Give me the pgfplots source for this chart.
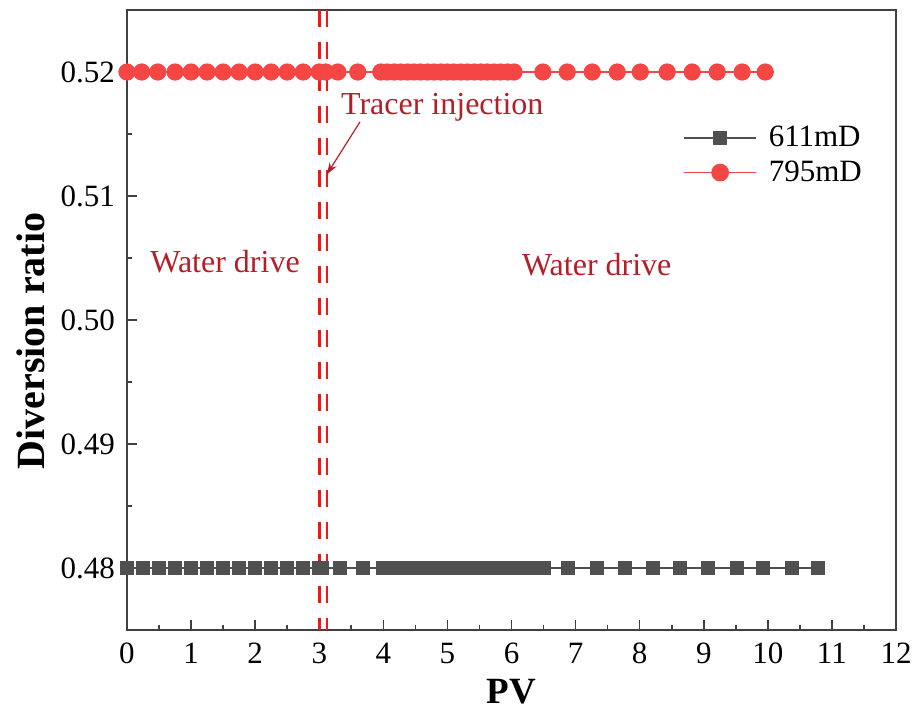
\documentclass[border=0pt]{standalone}
\usepackage{fontspec}
\setmainfont{Liberation Serif}
\usepackage{pgfplots}
\pgfplotsset{compat=1.18}
\usetikzlibrary{arrows.meta}
\definecolor{cred}{RGB}{245,70,70}
\definecolor{cgray}{RGB}{80,80,80}
\definecolor{axisgray}{RGB}{64,64,64}
\definecolor{cdash}{RGB}{240,25,25}
\definecolor{cann}{RGB}{180,30,40}
\begin{document}
\begin{tikzpicture}
\path[use as bounding box] (-63.5pt,-39.5pt) rectangle (394pt,315pt);
\begin{axis}[
  name=ax, scale only axis, width=384.5pt, height=310pt,
  at={(0pt,0pt)}, anchor=south west,
  xmin=0, xmax=12, ymin=0.475, ymax=0.525,
  xtick={0,1,...,12}, minor x tick num=1,
  ytick={0.48,0.49,0.50,0.51,0.52}, minor y tick num=1,
  tick align=inside, xtick pos=bottom, ytick pos=left,
  major tick length=5pt, minor tick length=2.5pt,
  axis line style={draw=axisgray, line width=1pt},
  tick style={draw=axisgray, line width=0.8pt},
  /pgf/number format/assume math mode=true,
  yticklabel style={/pgf/number format/fixed, /pgf/number format/fixed zerofill, /pgf/number format/precision=2, xshift=-2.5pt},
  xticklabel style={yshift=-3pt},
  ticklabel style={font=\fontsize{15.5}{18}\selectfont},
  xlabel={PV}, ylabel={Diversion ratio},
  xlabel style={font=\fontsize{18.5}{21}\selectfont\bfseries, at={(axis description cs:0.5,-0.099)}, anchor=center},
  ylabel style={font=\fontsize{20}{23}\selectfont\bfseries, at={(axis description cs:-0.1248,0.466)}, anchor=center},
  legend style={at={(rel axis cs:0.969,0.826)}, anchor=north east, draw=none, fill=none,
    font=\fontsize{15.5}{18}\selectfont, row sep=1.5pt},
  legend cell align=left,
  legend image code/.code={\draw[mark repeat=2,mark phase=2, line width=0.9pt] plot coordinates {(0pt,0pt) (18pt,0pt) (36pt,0pt)}; \path (40pt,0pt);},
]
\addplot[color=cgray, line width=0.6pt, mark=square*, mark size=3.2pt, mark options={solid, fill=cgray, draw=cgray}] coordinates {
(0,0.48) (0.25,0.48) (0.5,0.48) (0.75,0.48) (1.0,0.48) (1.25,0.48) (1.5,0.48) (1.75,0.48) (2.0,0.48) (2.25,0.48) (2.5,0.48) (2.75,0.48) (3.0,0.48) (3.05,0.48) (3.32,0.48) (3.68,0.48)
(4.0,0.48) (4.1,0.48) (4.2,0.48) (4.3,0.48) (4.4,0.48) (4.5,0.48) (4.6,0.48) (4.7,0.48) (4.8,0.48) (4.9,0.48) (5.0,0.48) (5.1,0.48) (5.2,0.48) (5.3,0.48) (5.4,0.48) (5.5,0.48) (5.6,0.48) (5.7,0.48) (5.8,0.48) (5.9,0.48) (6.0,0.48) (6.1,0.48) (6.2,0.48) (6.3,0.48) (6.4,0.48) (6.5,0.48)
(6.88,0.48) (7.33,0.48) (7.77,0.48) (8.21,0.48) (8.63,0.48) (9.07,0.48) (9.52,0.48) (9.93,0.48) (10.38,0.48) (10.78,0.48)
};
\addlegendentry{611mD}
\addplot[color=cred, line width=0.6pt, mark=*, mark size=4pt, mark options={solid, fill=cred, draw=cred}] coordinates {
(0,0.52) (0.23,0.52) (0.48,0.52) (0.75,0.52) (1.0,0.52) (1.25,0.52) (1.5,0.52) (1.75,0.52) (2.0,0.52) (2.25,0.52) (2.5,0.52) (2.75,0.52) (3.0,0.52) (3.1,0.52) (3.29,0.52) (3.6,0.52)
(3.96,0.52) (4.06,0.52) (4.17,0.52) (4.27,0.52) (4.38,0.52) (4.48,0.52) (4.58,0.52) (4.69,0.52) (4.79,0.52) (4.90,0.52) (5.00,0.52) (5.10,0.52) (5.21,0.52) (5.31,0.52) (5.42,0.52) (5.52,0.52) (5.62,0.52) (5.73,0.52) (5.83,0.52) (5.94,0.52) (6.04,0.52)
(6.49,0.52) (6.87,0.52) (7.26,0.52) (7.65,0.52) (8.01,0.52) (8.43,0.52) (8.82,0.52) (9.21,0.52) (9.60,0.52) (9.96,0.52)
};
\addlegendentry{795mD}
\addplot[forget plot, color=cdash, line width=1.3pt, dash pattern=on 8.5pt off 7.5pt] coordinates {(3.0,0.525) (3.0,0.475)};
\addplot[forget plot, color=cdash, line width=1.3pt, dash pattern=on 8.5pt off 7.5pt] coordinates {(3.12,0.525) (3.12,0.475)};
\node[text=cann, font=\fontsize{16}{19}\selectfont] at (axis cs:4.92,0.51719) {Tracer injection};
\draw[cann, line width=0.6pt, -{Stealth[length=6pt,width=4pt]}] (axis cs:3.636,0.51598) -- (axis cs:3.117,0.51173);
\node[text=cann, font=\fontsize{16}{19}\selectfont] at (axis cs:1.53,0.50474) {Water drive};
\node[text=cann, font=\fontsize{16}{19}\selectfont] at (axis cs:7.33,0.5045) {Water drive};
\end{axis}
\end{tikzpicture}
\end{document}
